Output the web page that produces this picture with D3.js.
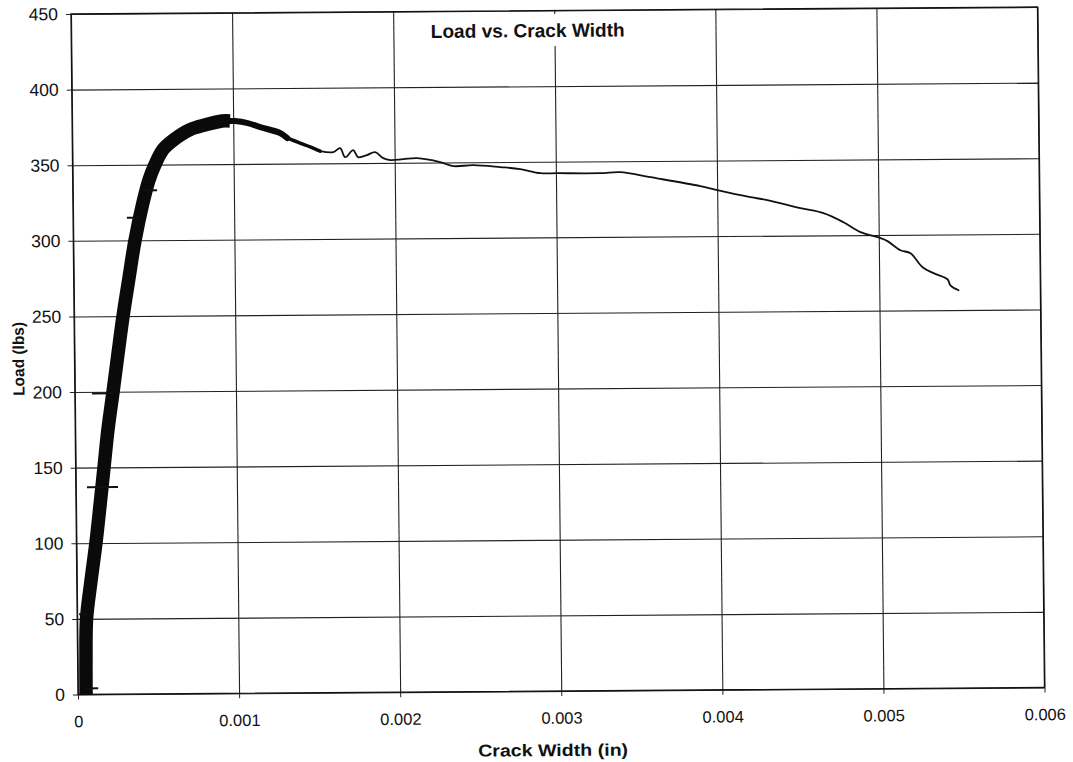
<!DOCTYPE html>
<html>
<head>
<meta charset="utf-8">
<script src="https://cdn.jsdelivr.net/npm/d3@7"></script>
<style>
  html, body { margin: 0; padding: 0; background: #fff; }
  svg { display: block; }
  text { font-family: "Liberation Sans", Arial, sans-serif; fill: #111; }
</style>
</head>
<body>
<svg id="chart" width="1073" height="762"></svg>
<script>
// Axis ticks
const xTicks = [0, 0.001, 0.002, 0.003, 0.004, 0.005, 0.006];
const xTickLabels = ["0", "0.001", "0.002", "0.003", "0.004", "0.005", "0.006"];
const yTicks = [0, 50, 100, 150, 200, 250, 300, 350, 400, 450];

// Loading branch (dense, noisy record) — crack width (in) and load (lbs)
const riseWidth = [0.000050, 0.000052, 0.000058, 0.000088, 0.000121, 0.000149, 0.000176,
  0.000203, 0.000237, 0.000270, 0.000304, 0.000343, 0.000383, 0.000435, 0.000474,
  0.000512, 0.000563, 0.000625, 0.000732, 0.000825, 0.000931, 0.000980];
const riseLoad = [0, 25, 50, 75, 100, 125, 150, 175, 200, 225, 250, 275, 300, 325, 340,
  350, 360, 366, 373, 376, 378.5, 378.5];

// Peak region, still noisy
const peakWidth = [0.000931, 0.001012, 0.001090, 0.001167, 0.001290, 0.001334, 0.001414, 0.001476, 0.001538];
const peakLoad = [378.5, 378.4, 377, 374.3, 370.3, 367, 363.5, 361, 358.1];

// Post-peak softening branch
const tailWidth = [0.001538, 0.001619, 0.001662, 0.001693, 0.001743, 0.001773, 0.001829,
  0.001879, 0.001929, 0.001972, 0.002053, 0.002140, 0.002282, 0.002363, 0.002487,
  0.002655, 0.002779, 0.002903, 0.003008, 0.003276, 0.003400, 0.003586, 0.003896,
  0.004001, 0.004206, 0.004311, 0.004516, 0.004658, 0.004782, 0.004887, 0.005011,
  0.005054, 0.005134, 0.005196, 0.005270, 0.005338, 0.005424, 0.005442, 0.005492];
const tailLoad = [358.1, 357.4, 360, 354, 358.6, 354, 355.3, 357.2, 353.2, 351.9, 352.4,
  353, 350.3, 347.6, 348.1, 346.7, 345.3, 342.5, 342.4, 342.2, 342.8, 339.3, 333.2,
  330.4, 325.6, 323.6, 318.1, 314.7, 308.6, 302, 297.9, 295.9, 289.8, 287.8, 278.5,
  274.5, 270.4, 266.4, 263.1];

// Isolated excursions off the loading branch
const spikeLoad = [4, 53, 137, 199, 315, 333];
const spikeFrom = [0.000045, 0.000012, 0.000069, 0.000106, 0.000334, 0.000440];
const spikeTo = [0.000126, 0.000060, 0.000262, 0.000237, 0.000410, 0.000523];

const svg = d3.select("#chart");
const plotLeft = 74.5, plotRight = 1041, plotTop = 10.5, plotBottom = 691;

const x = d3.scaleLinear().domain([0, 0.006]).range([plotLeft, plotRight]);
const y = d3.scaleLinear().domain([0, 450]).range([plotBottom, plotTop]);

// the printed sheet sits slightly skewed on the page
const g = svg.append("g").attr("transform", "matrix(1,-0.00725,0.0103,1,-3.63,4.03)");

// grid
const gridY = g.append("g").attr("transform", `translate(${plotLeft},0)`)
  .call(d3.axisLeft(y).tickValues(yTicks).tickSize(-(plotRight - plotLeft)).tickFormat(""));
const gridX = g.append("g").attr("transform", `translate(0,${plotBottom})`)
  .call(d3.axisBottom(x).tickValues(xTicks).tickSize(-(plotBottom - plotTop)).tickFormat(""));
[gridY, gridX].forEach(a => {
  a.select(".domain").remove();
  a.selectAll(".tick line").attr("stroke", "#222").attr("stroke-width", 1.1);
});

// tick marks + labels
const axY = g.append("g").attr("transform", `translate(${plotLeft},0)`)
  .call(d3.axisLeft(y).tickValues(yTicks).tickSize(5).tickPadding(8));
const axX = g.append("g").attr("transform", `translate(0,${plotBottom})`)
  .call(d3.axisBottom(x).tickValues(xTicks).tickSize(5).tickPadding(16)
    .tickFormat((d, i) => xTickLabels[i]));
[axY, axX].forEach(a => {
  a.select(".domain").remove();
  a.selectAll(".tick line").attr("stroke", "#222");
  a.selectAll(".tick text").style("font-family", '"Liberation Sans", Arial, sans-serif')
    .attr("fill", "#111");
});
axY.selectAll(".tick text").style("font-size", "17.5px");
axX.selectAll(".tick text").style("font-size", "16.5px");

// plot frame
g.append("rect").attr("x", plotLeft).attr("y", plotTop)
  .attr("width", plotRight - plotLeft).attr("height", plotBottom - plotTop)
  .attr("fill", "none").attr("stroke", "#111").attr("stroke-width", 1.3);

// title with white backing
g.append("rect").attr("x", 428).attr("y", 14).attr("width", 206).attr("height", 32).attr("fill", "#fff");
g.append("text").attr("x", 531).attr("y", 37).attr("text-anchor", "middle")
  .attr("textLength", 194).attr("lengthAdjust", "spacingAndGlyphs")
  .style("font-size", "19px").style("font-weight", "bold").text("Load vs. Crack Width");

// axis titles
g.append("text").attr("x", 549).attr("y", 756).attr("text-anchor", "middle")
  .attr("textLength", 150).attr("lengthAdjust", "spacingAndGlyphs")
  .style("font-size", "17px").style("font-weight", "bold").text("Crack Width (in)");
g.append("text").attr("transform", "translate(24,355) rotate(-90)").attr("text-anchor", "middle")
  .attr("textLength", 74).attr("lengthAdjust", "spacingAndGlyphs")
  .style("font-size", "16px").style("font-weight", "bold").text("Load (lbs)");

// data
const zip = (a, b) => a.map((v, i) => [v, b[i]]);
const lineGen = curve => d3.line().x(d => x(d[0])).y(d => y(d[1])).curve(curve);

g.append("path").datum(zip(riseWidth, riseLoad))
  .attr("d", lineGen(d3.curveCatmullRom)).attr("fill", "none")
  .attr("stroke", "#0a0a0a").attr("stroke-width", 13.5).attr("stroke-linejoin", "round");

// peak: heavier near the top, thinning as the record spreads out
const peakPts = zip(peakWidth, peakLoad);
g.append("path").datum(peakPts.slice(0, 6))
  .attr("d", lineGen(d3.curveCatmullRom))
  .attr("fill", "none").attr("stroke", "#0a0a0a").attr("stroke-width", 6)
  .attr("stroke-linejoin", "round").attr("stroke-linecap", "round");
g.append("path").datum(peakPts.slice(5))
  .attr("d", lineGen(d3.curveCatmullRom))
  .attr("fill", "none").attr("stroke", "#0a0a0a").attr("stroke-width", 3.5)
  .attr("stroke-linejoin", "round").attr("stroke-linecap", "round");

g.append("path").datum(zip(tailWidth, tailLoad))
  .attr("d", lineGen(d3.curveCatmullRom))
  .attr("fill", "none").attr("stroke", "#111").attr("stroke-width", 1.8)
  .attr("stroke-linejoin", "round").attr("stroke-linecap", "round");

g.append("g").selectAll("line").data(spikeLoad).join("line")
  .attr("x1", (d, i) => x(spikeFrom[i])).attr("x2", (d, i) => x(spikeTo[i]))
  .attr("y1", d => y(d)).attr("y2", d => y(d))
  .attr("stroke", "#111").attr("stroke-width", 2);
</script>
</body>
</html>
